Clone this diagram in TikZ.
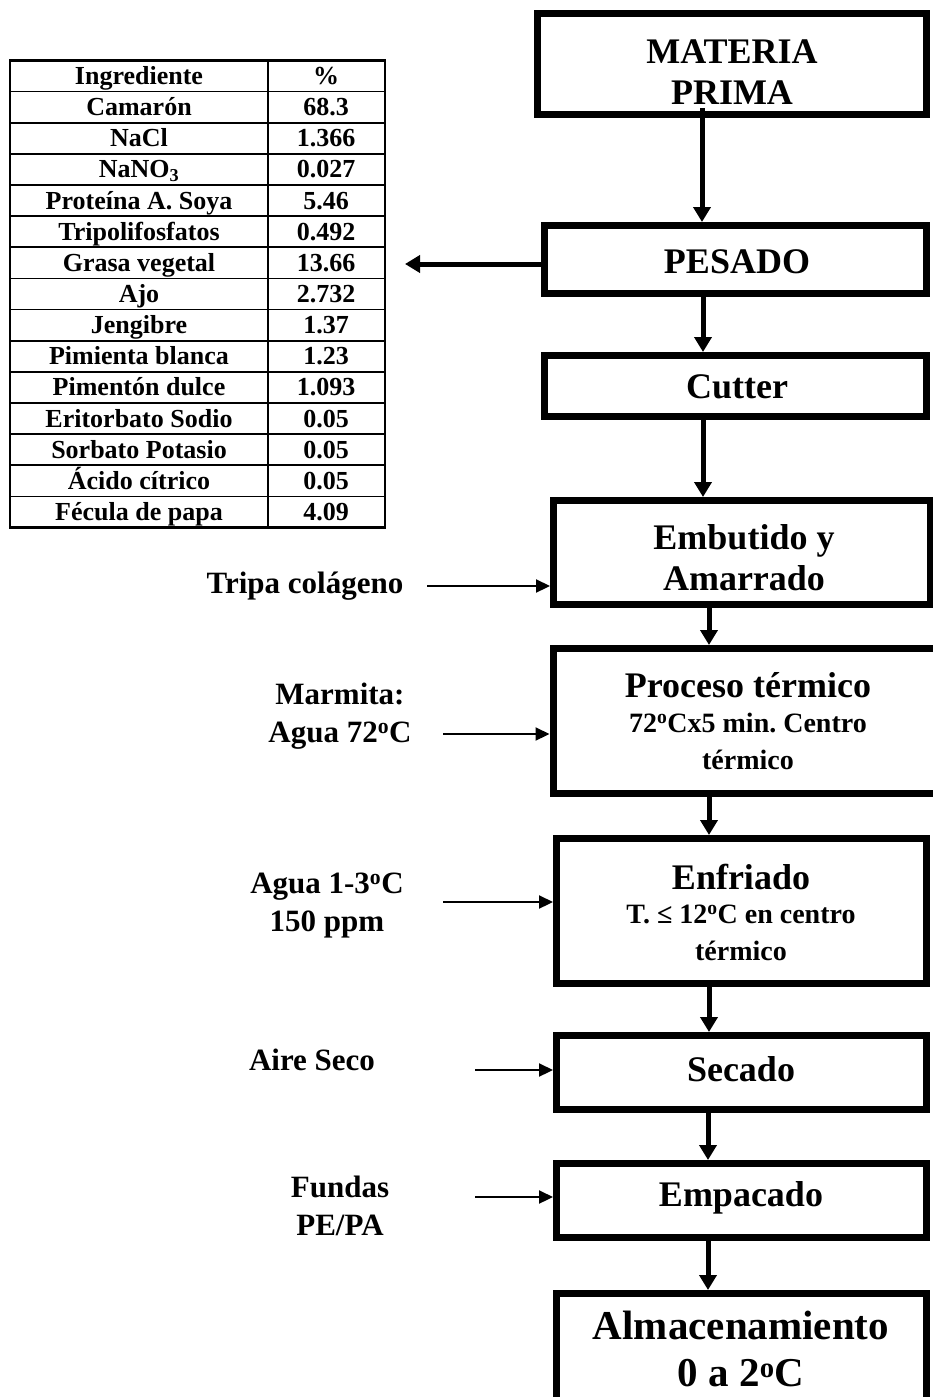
\documentclass[tikz,border=0pt]{standalone}
\usepackage{fontspec}
\setmainfont{Liberation Serif}
\usetikzlibrary{arrows.meta}
\begin{document}
\begin{tikzpicture}[x=1pt,y=-1pt,
  box/.style={draw, line width=7pt, inner sep=0pt},
  big/.style={font=\bfseries\fontsize{36}{41}\selectfont, align=center, inner sep=0pt},
  huge/.style={font=\bfseries\fontsize{41}{47}\selectfont, align=center, inner sep=0pt},
  mid/.style={font=\bfseries\fontsize{28}{37}\selectfont, align=center, inner sep=0pt},
  side/.style={font=\bfseries\fontsize{31}{38}\selectfont, align=center, inner sep=0pt},
  tab/.style={font=\bfseries\fontsize{26}{31}\selectfont, inner sep=0pt},
  thickarrow/.style={line width=5pt, -{Triangle[width=17pt,length=15pt]}},
  thinarrow/.style={line width=2.2pt, -{Triangle[width=13pt,length=14pt]}},
  tabline/.style={line width=1.7pt},
]
\useasboundingbox (0,0) rectangle (933,1397);
\clip (0,0) rectangle (933,1397);

% ---------- table ----------
\draw[line width=2.2pt] (10,60.5) rectangle (385,527.5);
\foreach \k in {1,...,14} \draw[tabline] (10,60.5+31.14*\k) -- (385,60.5+31.14*\k);
\draw[tabline] (268,60.5) -- (268,527.5);
\foreach \a/\b [count=\i from 0] in {Ingrediente/\%, Camarón/68.3, NaCl/1.366,
  NaNO\textsubscript{3}/0.027, Proteína A. Soya/5.46, Tripolifosfatos/0.492,
  Grasa vegetal/13.66, Ajo/2.732, Jengibre/1.37, Pimienta blanca/1.23,
  Pimentón dulce/1.093, Eritorbato Sodio/0.05, Sorbato Potasio/0.05,
  Ácido cítrico/0.05, Fécula de papa/4.09}{
  \node[tab, anchor=base] (ta\i) at (139,84.5+31.14*\i) {\a};
  \node[tab, anchor=base] (tb\i) at (326,84.5+31.14*\i) {\b};
}

% ---------- boxes ----------
\node[box, minimum width=389pt, minimum height=101pt] (mp) at (732,64) {};
\node[box, minimum width=382pt, minimum height=68pt] (pesado) at (735.5,259.5) {};
\node[box, minimum width=382pt, minimum height=61pt] (cutter) at (735.5,386) {};
\node[box, minimum width=377pt, minimum height=104pt] (emb) at (742,552.5) {};
\node[box, minimum width=388pt, minimum height=145pt] (proc) at (747,721) {};
\node[box, minimum width=370pt, minimum height=145pt] (enf) at (741.5,911) {};
\node[box, minimum width=370pt, minimum height=74pt] (sec) at (741.5,1072.5) {};
\node[box, minimum width=370pt, minimum height=74pt] (emp) at (741.5,1200.5) {};
\node[box, minimum width=370pt, minimum height=123pt] (alm) at (741.5,1355) {};

% ---------- box texts ----------
\node[big] (mpt) at (732,72) {MATERIA\\PRIMA};
\node[big] (pest) at (737,262) {PESADO};
\node[big] (cutt) at (737,387) {Cutter};
\node[big] (embt) at (744,558) {Embutido y\\Amarrado};
\node[big] (proct) at (748,685) {Proceso térmico};
\node[mid] (procs) at (748,741) {72\textsuperscript{o}Cx5 min.\ Centro\\térmico};
\node[big] (enft) at (741,877) {Enfriado};
\node[mid] (enfs) at (741,933) {T. ≤ 12\textsuperscript{o}C en centro\\térmico};
\node[big] (sect) at (741,1069) {Secado};
\node[big] (empt) at (741,1198) {Empacado};
\node[huge] (almt) at (741,1349) {Almacenamiento\\0 a 2\textsuperscript{o}C};

% ---------- side labels ----------
\node[side] (tripa) at (305,586) {Tripa colágeno};
\node[side] (marm) at (340,716) {Marmita:\\Agua 72\textsuperscript{o}C};
\node[side] (agua) at (327,906) {Agua 1-3\textsuperscript{o}C\\150 ppm};
\node[side] (aire) at (312,1060) {Aire Seco};
\node[side] (fund) at (340,1206) {Fundas\\PE/PA};

% ---------- main flow arrows ----------
\coordinate (s1) at (702,108);
\coordinate (c2) at (703,0);
\coordinate (c3) at (709,0);
\coordinate (c4) at (708,0);
\draw[thickarrow] (s1) -- (s1 |- pesado.north);
\draw[thickarrow] (pesado.south -| c2) -- (cutter.north -| c2);
\draw[thickarrow] (cutter.south -| c2) -- (emb.north -| c2);
\draw[thickarrow] (emb.south -| c3) -- (proc.north -| c3);
\draw[thickarrow] (proc.south -| c3) -- (enf.north -| c3);
\draw[thickarrow] (enf.south -| c3) -- (sec.north -| c3);
\draw[thickarrow] (sec.south -| c4) -- (emp.north -| c4);
\draw[thickarrow] (emp.south -| c4) -- (alm.north -| c4);

% ---------- side arrows ----------
\coordinate (tip) at (405,264);
\draw[thickarrow] (pesado.west |- tip) -- (tip);
\coordinate (i1) at (427,586);
\coordinate (i2) at (443,734);
\coordinate (i3) at (443,902);
\coordinate (i4) at (475,1070);
\coordinate (i5) at (475,1197);
\draw[thinarrow] (i1) -- (i1 -| emb.west);
\draw[thinarrow] (i2) -- (i2 -| proc.west);
\draw[thinarrow] (i3) -- (i3 -| enf.west);
\draw[thinarrow] (i4) -- (i4 -| sec.west);
\draw[thinarrow] (i5) -- (i5 -| emp.west);
\end{tikzpicture}
\end{document}
